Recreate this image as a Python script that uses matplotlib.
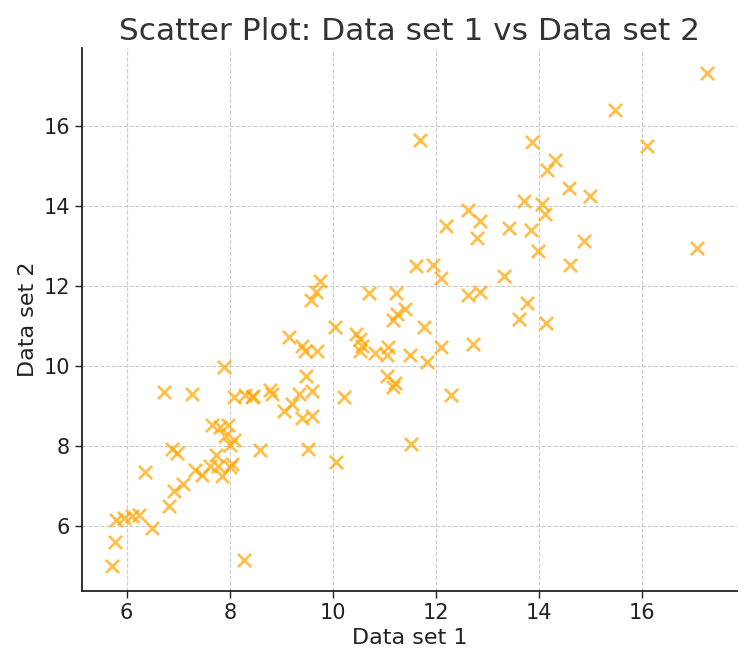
import matplotlib
matplotlib.use("Agg")
import matplotlib.pyplot as plt

# values
data_set_1 = [
    5.71, 5.77, 5.80, 5.95, 6.11, 6.24, 6.50, 6.36, 6.73, 6.82, 6.93, 6.88, 6.97,
    7.10, 7.26, 7.32, 7.46, 7.61, 7.78, 7.74, 7.85, 8.04, 8.00, 7.65, 7.81, 7.97,
    7.91, 8.09, 8.00, 7.88, 8.08, 8.30, 8.43, 8.46, 8.59, 8.27, 8.79, 8.82,
    9.05, 9.20, 9.35, 9.40, 9.59, 9.48, 9.59, 9.14, 9.40, 9.46, 9.69, 9.57, 9.68,
    9.75, 9.51, 10.07, 10.21, 10.05,
    10.44, 10.53, 10.57, 10.53, 10.82, 11.06, 11.05, 10.70, 11.23, 11.39, 11.25,
    11.17, 11.05, 11.21, 11.17, 11.49, 11.51,
    11.69, 11.62, 11.94, 12.10, 11.77, 11.83, 12.10, 12.19, 12.28, 12.62, 12.85,
    12.80, 12.61, 12.85, 12.71,
    13.31, 13.42, 13.70, 13.85, 13.84, 13.97, 14.05, 14.12, 14.15, 14.31, 14.57,
    14.99, 14.87, 14.60, 13.77, 13.61, 14.13, 15.46, 16.08, 17.05, 17.26,
]
data_set_2 = [
    5.01, 5.60, 6.16, 6.21, 6.25, 6.29, 5.97, 7.36, 9.36, 6.51, 6.88, 7.94, 7.83,
    7.05, 9.30, 7.40, 7.28, 7.52, 7.50, 7.78, 7.27, 7.55, 7.48, 8.53, 8.49, 8.53,
    8.26, 8.15, 8.03, 9.98, 9.22, 9.28, 9.22, 9.26, 7.90, 5.15, 9.41, 9.30,
    8.87, 9.06, 9.30, 8.70, 8.76, 9.76, 9.37, 10.72, 10.50, 10.38, 10.38, 11.65, 11.86,
    12.13, 7.94, 7.61, 9.22, 10.97,
    10.80, 10.69, 10.51, 10.38, 10.34, 10.47, 10.28, 11.83, 11.83, 11.44, 11.30,
    11.16, 9.76, 9.59, 9.47, 10.28, 8.05,
    15.66, 12.51, 12.53, 12.20, 10.99, 10.10, 10.49, 13.49, 9.28, 13.91, 13.63,
    13.19, 11.78, 11.86, 10.55,
    12.24, 13.44, 14.13, 15.61, 13.40, 12.88, 14.04, 13.80, 14.91, 15.15, 14.44,
    14.24, 13.13, 12.53, 11.59, 11.17, 11.07, 16.40, 15.51, 12.94, 17.33,
]

fig = plt.figure(figsize=(7.5, 6.66), dpi=100)
ax = fig.add_axes([0.109, 0.113, 0.874, 0.815])

ax.scatter(data_set_1, data_set_2, marker="x", s=90, linewidths=2,
           color="orange", alpha=0.7, zorder=3)

ax.set_title("Scatter Plot: Data set 1 vs Data set 2", fontsize=22.5, color="#333333", pad=6)
ax.set_xlabel("Data set 1", fontsize=16, color="#222222")
ax.set_ylabel("Data set 2", fontsize=16, color="#222222")
ax.tick_params(labelsize=15, length=5, width=1, colors="#222222")

ax.grid(True, linestyle="--", color="#cccccc", linewidth=0.8)
ax.set_axisbelow(True)
ax.spines["top"].set_visible(False)
ax.spines["right"].set_visible(False)
for side in ("left", "bottom"):
    ax.spines[side].set_linewidth(1.3)
    ax.spines[side].set_color("#222222")

fig.savefig("out.png", dpi=100)
